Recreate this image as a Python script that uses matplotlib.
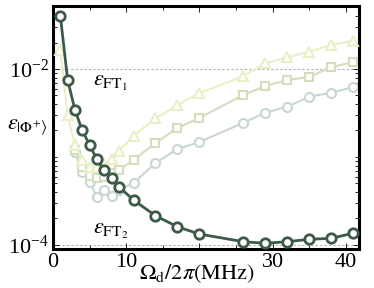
import matplotlib
matplotlib.use("Agg")
import matplotlib.pyplot as plt
from matplotlib.ticker import MultipleLocator, LogLocator, NullFormatter, FuncFormatter

plt.rcParams['font.family'] = ['Liberation Serif', 'DejaVu Serif']
plt.rcParams['mathtext.fontset'] = 'stix'

# drive amplitude (MHz)
x_dark = [1, 2, 3, 4, 5, 6, 7, 8, 9, 11, 14, 17, 20, 26, 29, 32, 35, 38, 41]
y_dark = [4.04e-2, 7.5e-3, 3.42e-3, 2.0e-3, 1.37e-3, 9.4e-4, 7.1e-4, 5.7e-4, 4.6e-4,
          3.24e-4, 2.15e-4, 1.61e-4, 1.33e-4, 1.09e-4, 1.045e-4, 1.09e-4, 1.16e-4,
          1.19e-4, 1.36e-4]

x_tri = [1, 2, 3, 4, 5, 6, 7, 8, 9, 11, 14, 17, 20, 26, 29, 32, 35, 38, 41]
y_tri = [1.65e-2, 3.0e-3, 1.37e-3, 9.2e-4, 7.6e-4, 7.7e-4, 8.3e-4, 9.5e-4, 1.17e-3,
         1.73e-3, 2.75e-3, 3.9e-3, 5.3e-3, 8.3e-3, 1.16e-2, 1.36e-2, 1.57e-2,
         1.87e-2, 2.1e-2]

x_sq = [3, 4, 5, 6, 7, 8, 9, 11, 14, 17, 20, 26, 29, 32, 35, 38, 41]
y_sq = [1.20e-3, 7.7e-4, 6.08e-4, 5.77e-4, 5.93e-4, 6.58e-4, 7.12e-4, 9.25e-4,
        1.44e-3, 2.14e-3, 2.78e-3, 5.07e-3, 6.41e-3, 7.5e-3, 8.11e-3, 1.05e-2, 1.20e-2]

x_lc = [3, 4, 5, 6, 7, 8, 9, 11, 14, 17, 20, 26, 29, 32, 35, 38, 41]
y_lc = [1.14e-3, 6.76e-4, 5.2e-4, 3.51e-4, 4.22e-4, 3.6e-4, 4.22e-4, 5.07e-4,
        8.55e-4, 1.23e-3, 1.48e-3, 2.45e-3, 3.19e-3, 3.73e-3, 4.84e-3, 5.38e-3, 6.2e-3]

x_tick_labels = {0: '0', 10: '10', 20: '', 30: '30', 40: '40'}

eps_ft1 = 1e-2
eps_ft2 = 1e-4

fig = plt.figure(figsize=(3.74, 2.88), dpi=100)
ax = fig.add_axes([53/374, 1 - 249/288, 306/374, 243/288])

ax.axhline(eps_ft1, color='#b0b0b0', ls=(0, (2, 2)), lw=0.8, zorder=0)
ax.axhline(eps_ft2, color='#b0b0b0', ls=(0, (2, 2)), lw=0.8, zorder=0)

ax.plot(x_lc, y_lc, '-o', color='#c9d6d3', mfc='white', mec='#c9d6d3', ms=6.5, mew=1.5, lw=1.5, zorder=2)
ax.plot(x_sq, y_sq, '-s', color='#d4ddbd', mfc='white', mec='#d4ddbd', ms=5.5, mew=1.5, lw=1.5, zorder=3)
ax.plot(x_tri, y_tri, '-^', color='#e9f0c6', mfc='white', mec='#e9f0c6', ms=7, mew=1.5, lw=1.5, zorder=4)
ax.plot(x_dark, y_dark, '-o', color='#3d5a48', mfc='white', mec='#3d5a48', ms=6.8, mew=2.0, lw=2.0, zorder=5)

ax.set_yscale('log')
ax.set_xlim(0, 41.8)
ax.set_ylim(9.0e-5, 5.2e-2)

ax.xaxis.set_major_locator(MultipleLocator(10))
ax.xaxis.set_minor_locator(MultipleLocator(5))
ax.xaxis.set_major_formatter(FuncFormatter(lambda v, p: x_tick_labels.get(int(round(v)), '')))
ax.yaxis.set_major_locator(LogLocator(base=100))
ax.yaxis.set_minor_locator(LogLocator(base=10, subs=[1, 2, 3, 4, 5, 6, 7, 8, 9]))
ax.yaxis.set_minor_formatter(NullFormatter())

ax.tick_params(which='both', direction='in', top=True, right=True, labelsize=16,
               colors='black')
ax.tick_params(which='major', length=4, width=0.6)
ax.tick_params(which='minor', length=3, width=0.6)
ax.tick_params(axis='x', which='major', pad=3)
ax.tick_params(axis='y', which='major', pad=3)
for s in ax.spines.values():
    s.set_linewidth(2.2)

ax.text(5.45, 6.9e-3, r'$\varepsilon_{\mathrm{FT}_1}$', fontsize=16, ha='left', va='center')
ax.text(5.45, 1.41e-4, r'$\varepsilon_{\mathrm{FT}_2}$', fontsize=16, ha='left', va='center')

ax.set_ylabel(r'$\varepsilon_{|\Phi^{+}\rangle}$', fontsize=16, rotation=0, ha='center', va='center')
ax.yaxis.set_label_coords(-0.085, 0.50)
ax.set_xlabel(r'$\Omega_\mathrm{d}/2\pi(\mathrm{MHz})$', fontsize=16, ha='center', va='center')
ax.xaxis.set_label_coords(0.47, -0.10)

fig.savefig('out.png', dpi=100)
